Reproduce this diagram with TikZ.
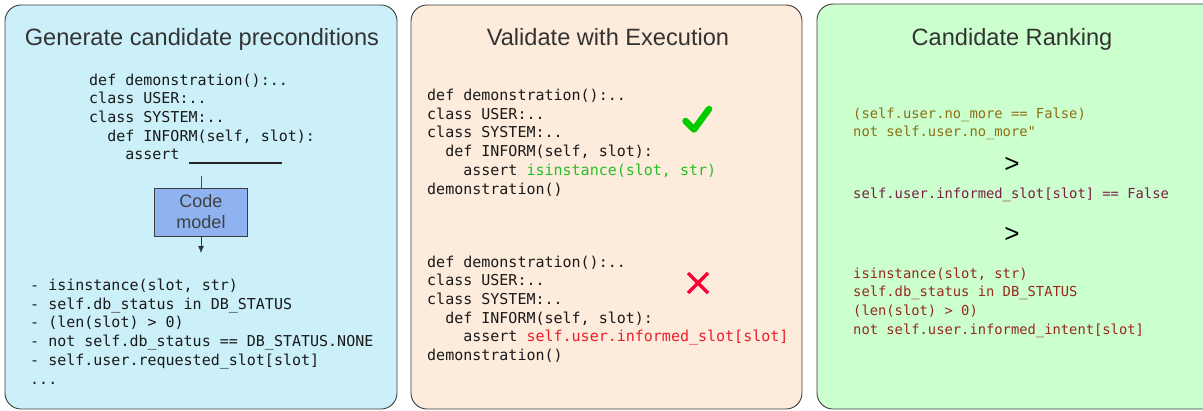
\documentclass[tikz,border=0pt]{standalone}
\usepackage{fontspec}
\setmainfont{Liberation Sans}
\setmonofont{DejaVu Sans Mono}
\usetikzlibrary{arrows.meta}
\definecolor{bluebg}{RGB}{204,240,250}
\definecolor{peachbg}{RGB}{253,235,220}
\definecolor{greenbg}{RGB}{204,255,206}
\definecolor{boxborder}{RGB}{60,60,60}
\definecolor{modelfill}{RGB}{143,178,240}
\definecolor{okgreen}{RGB}{40,190,40}
\definecolor{markgreen}{RGB}{0,204,0}
\definecolor{badred}{RGB}{235,30,40}
\definecolor{markred}{RGB}{250,0,50}
\definecolor{olivec}{RGB}{140,110,20}
\definecolor{plumc}{RGB}{122,30,70}
\definecolor{brickc}{RGB}{150,40,30}
\newcommand{\cb}[1]{\begin{tabular}[t]{@{}l@{}}#1\end{tabular}}
\newcommand{\ind}[1]{\phantom{#1}}
\tikzset{
  panel/.style={draw=boxborder, line width=0.9pt, rounded corners=16pt},
  title/.style={font=\fontsize{23.6}{28}\selectfont, anchor=base, inner sep=0pt, text=black!80},
  code/.style={font=\fontsize{15}{18.7}\selectfont\ttfamily, anchor=base west, inner sep=0pt, text=black!90},
  rankcode/.style={font=\fontsize{13.8}{18.7}\selectfont\ttfamily, anchor=base west, inner sep=0pt},
  gt/.style={font=\fontsize{26}{28}\selectfont, anchor=base, inner sep=0pt},
  modelbox/.style={draw=boxborder, line width=0.9pt, fill=modelfill, minimum width=93pt, minimum height=48pt, inner sep=0pt, align=center, font=\fontsize{18}{21}\selectfont, text=black!75},
}
\begin{document}
\begin{tikzpicture}[x=1pt,y=-1pt]
\useasboundingbox (0,0) rectangle (1203,410);
% panels
\draw[panel, fill=bluebg] (5,5) rectangle (397,409);
\draw[panel, fill=peachbg] (411,5) rectangle (802,409);
\draw[panel, fill=greenbg] (817,4) rectangle (1220,409);
% titles
\node[title] (t1) at (202,45) {Generate candidate preconditions};
\node[title] (t2) at (608,45) {Validate with Execution};
\node[title] (t3) at (1012,45) {Candidate Ranking};
% panel 1
\node[code] (p1code) at (89,85) {\cb{def demonstration():..\\class USER:..\\class SYSTEM:..\\\ind{de}def INFORM(self, slot):\\\ind{asse}assert}};
\coordinate (blankl) at (189,163);
\coordinate (blankr) at (282,163);
\draw[line width=1.2pt, black!85] (blankl) -- (blankr);
\coordinate (inarrow) at (201,176);
\coordinate (outarrow) at (201,253);
\node[modelbox] (model) at (201,212) {Code\\model};
\draw[line width=0.8pt, black!70] (inarrow) -- (model.north);
\draw[line width=0.8pt, black!80, -{Latex[length=7pt,width=6pt]}] (model.south) -- (outarrow);
\node[code] (p1list) at (30,290.5) {\cb{- isinstance(slot, str)\\- self.db\_status in DB\_STATUS\\- (len(slot) > 0)\\- not self.db\_status == DB\_STATUS.NONE\\- self.user.requested\_slot[slot]\\...}};
% panel 2
\node[code] (p2a) at (427,100.5) {\cb{def demonstration():..\\class USER:..\\class SYSTEM:..\\\ind{de}def INFORM(self, slot):\\\ind{asse}assert \textcolor{okgreen}{isinstance(slot, str)}\\demonstration()}};
\node[code] (p2b) at (427,267) {\cb{def demonstration():..\\class USER:..\\class SYSTEM:..\\\ind{de}def INFORM(self, slot):\\\ind{asse}assert \textcolor{badred}{self.user.informed\_slot[slot]}\\demonstration()}};
\draw[markgreen, line width=6.5pt, line cap=round, line join=round] (685.5,121) -- (694,129.5) -- (709,109);
\draw[markred, line width=3.2pt] (688,273) -- (708,293) (708,273) -- (688,293);
% panel 3
\node[rankcode, text=olivec] (r1) at (853,118) {\cb{(self.user.no\_more == False)\\not self.user.no\_more"}};
\node[gt] (g1) at (1012,172) {>};
\node[rankcode, text=plumc] (r2) at (853,198) {self.user.informed\_slot[slot] == False};
\node[gt] (g2) at (1012,242) {>};
\node[rankcode, text=brickc] (r3) at (853,278) {\cb{isinstance(slot, str)\\self.db\_status in DB\_STATUS\\(len(slot) > 0)\\not self.user.informed\_intent[slot]}};
\end{tikzpicture}
\end{document}
